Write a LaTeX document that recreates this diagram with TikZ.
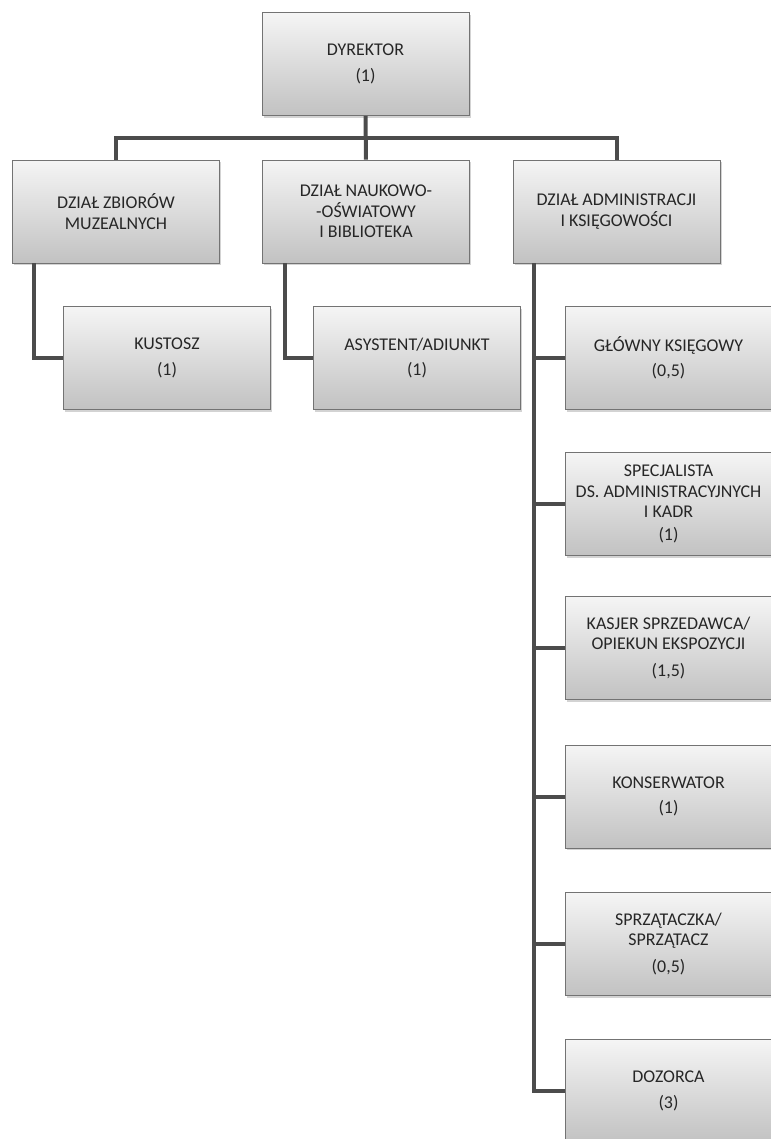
\documentclass[tikz,border=0pt]{standalone}
\usepackage{fontspec}
\setmainfont{Carlito}
\usetikzlibrary{calc}
\usetikzlibrary{shadows}

\begin{document}
\begin{tikzpicture}[x=1bp, y=-1bp,
    box/.style={rectangle, draw=black!55, line width=0.8bp, top color=black!4, bottom color=black!24,
      drop shadow={opacity=0.35, shadow xshift=1.5bp, shadow yshift=-2bp},
      minimum width=207bp, minimum height=103bp, inner sep=0pt, align=center,
      text=black!85, font=\fontsize{18}{20.5}\selectfont},
    link/.style={draw=black!70, line width=4bp}]
    \useasboundingbox (0,0) rectangle (771,1139);

    \node[box] (0) at (365.5,64) {DYREKTOR\\[6bp](1)};
    \node[box] (1) at (116,211.5) {DZIAŁ ZBIORÓW\\MUZEALNYCH};
    \node[box] (2) at (366,211.5) {DZIAŁ NAUKOWO-\\-OŚWIATOWY\\I BIBLIOTEKA};
    \node[box] (3) at (616.5,211.5) {DZIAŁ ADMINISTRACJI\\I KSIĘGOWOŚCI};
    \node[box] (4) at (167,358) {KUSTOSZ\\[5bp](1)};
    \node[box] (5) at (417,358) {ASYSTENT/ADIUNKT\\[5bp](1)};
    \node[box] (6) at (668.5,358) {GŁÓWNY KSIĘGOWY\\[5bp](0,5)};
    \node[box] (7) at (668.5,504) {SPECJALISTA\\DS. ADMINISTRACYJNYCH\\I KADR\\[2bp](1)};
    \node[box] (8) at (668.5,648) {KASJER SPRZEDAWCA/\\OPIEKUN EKSPOZYCJI\\[6bp](1,5)};
    \node[box] (9) at (668.5,796.5) {KONSERWATOR\\[5bp](1)};
    \node[box] (10) at (668.5,944) {SPRZĄTACZKA/\\SPRZĄTACZ\\[6bp](0,5)};
    \node[box] (11) at (668.5,1091) {DOZORCA\\[6bp](3)};

    \coordinate (bus) at ($(0.south)!0.5!(2.north)$);
    \coordinate (1a) at ($(1.south west)+(22,0)$);
    \coordinate (2a) at ($(2.south west)+(23,0)$);
    \coordinate (3a) at ($(3.south west)+(21,0)$);

    \draw[link] (0) -- (2);
    \draw[link] (bus) -| (1);
    \draw[link] (bus) -| (3);
    \draw[link] (1a) |- (4);
    \draw[link] (2a) |- (5);
    \foreach \i in {6,...,11}
      \draw[link] (3a) |- (\i);
  \end{tikzpicture}
\end{document}
